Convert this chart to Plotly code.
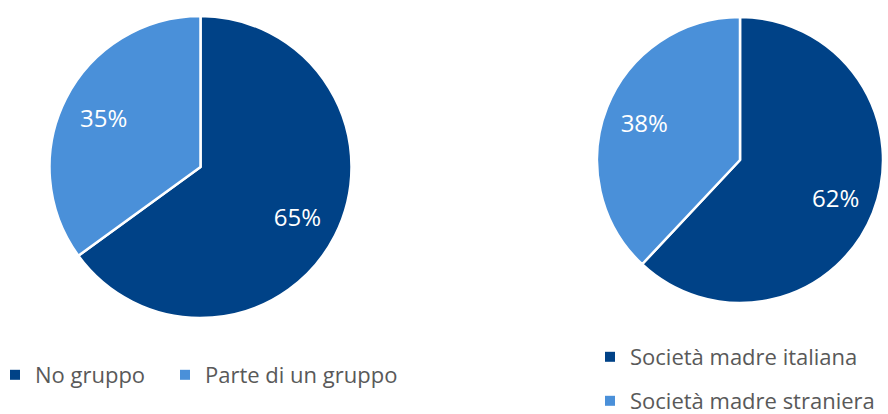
import plotly.graph_objects as go

left_labels = ["No gruppo", "Parte di un gruppo"]
left_values = [65, 35]
right_labels = ["Società madre italiana", "Società madre straniera"]
right_values = [62, 38]
colors = ["#004287", "#4A90D9"]

FONT = "Open Sans"
W, H = 888, 414
left_dom = dict(x=[49/W, 352/W], y=[1-318/H, 1-16/H])
right_dom = dict(x=[597/W, 883/W], y=[1-303/H, 1-17/H])

fig = go.Figure()

def add_pie(labels, values, dom):
    # filled pie with white separators
    fig.add_trace(go.Pie(
        labels=labels, values=values, sort=False, direction="clockwise", rotation=0,
        marker=dict(colors=colors, line=dict(color="white", width=2.5)),
        textinfo="none", domain=dom, showlegend=False,
        hoverinfo="label+percent",
    ))
    # transparent ring carrying the percentage labels further out
    fig.add_trace(go.Pie(
        labels=labels, values=values, sort=False, direction="clockwise", rotation=0,
        hole=0.44,
        marker=dict(colors=["rgba(0,0,0,0)"] * len(values), line=dict(width=0)),
        texttemplate="%{value}%", textposition="inside", insidetextorientation="horizontal",
        textfont=dict(color="white", size=24, family=FONT),
        domain=dom, showlegend=False, hoverinfo="skip",
    ))

add_pie(left_labels, left_values, left_dom)
add_pie(right_labels, right_values, right_dom)

# one legend box per entry so each can sit where the original puts it
legend_names = ["legend", "legend2", "legend3", "legend4"]
for lab, col, lg in zip(left_labels + right_labels, colors + colors, legend_names):
    fig.add_trace(go.Scatter(
        x=[None], y=[None], mode="markers", name=lab, legendgroup=lab,
        marker=dict(symbol="square", size=10, color=col), legend=lg,
        hoverinfo="skip",
    ))

lfont = dict(size=22, color="#595959", family=FONT)
def leg(xpx, ypx):
    return dict(orientation="v", x=xpx/W, y=1-ypx/H, yanchor="middle", xanchor="left",
                font=lfont, bgcolor="rgba(0,0,0,0)")

fig.update_layout(
    width=W, height=H, margin=dict(l=0, r=0, t=0, b=0, autoexpand=False),
    paper_bgcolor="white", plot_bgcolor="white",
    showlegend=True,
    xaxis=dict(visible=False), yaxis=dict(visible=False),
    legend=leg(-5, 375),
    legend2=leg(165, 375),
    legend3=leg(590, 357),
    legend4=leg(590, 401),
)
fig.write_html("out.html", config={"displayModeBar": False},
               post_script="document.body.style.margin='0';")
